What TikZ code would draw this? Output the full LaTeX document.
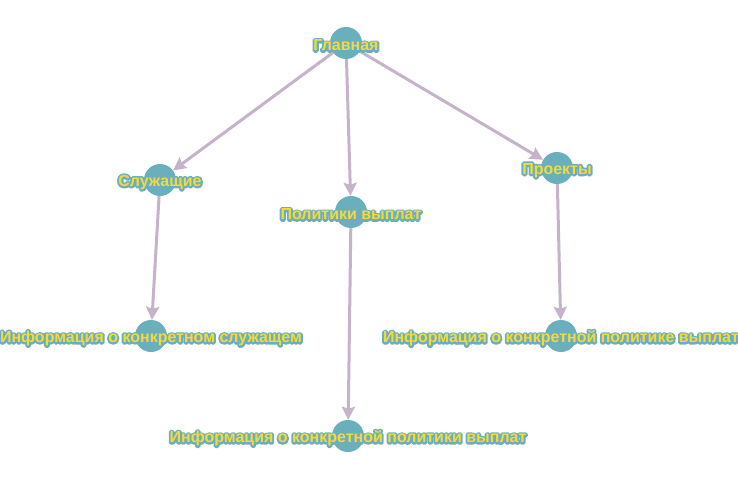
\documentclass[tikz,border=0pt]{standalone}
\usepackage{fontspec}
\setmainfont{Liberation Sans}
\usetikzlibrary{arrows.meta}
\definecolor{nodeteal}{HTML}{6AAFBB}
\definecolor{linkgrey}{HTML}{C4B3C9}
\definecolor{labelyellow}{HTML}{F2DA3C}
% yellow bold label over a teal stroked copy that forms its halo
\newcommand{\halolabel}[1]{%
  \makebox[0pt]{\makebox[0pt]{\textcolor{nodeteal}{%
    \special{pdf:literal direct q 2 Tr 3.8 w 1 j 1 J}#1\special{pdf:literal direct Q}}}%
  \makebox[0pt]{\textcolor{labelyellow}{#1}}}}
\tikzset{
  vertex/.style={circle, fill=nodeteal, minimum size=32pt, inner sep=0pt},
  vlabel/.style={font=\bfseries\fontsize{16pt}{16pt}\selectfont, inner sep=0pt, yshift=-2.5pt},
  link/.style={draw=linkgrey, line width=3pt, -{Stealth[length=13pt,width=13pt,inset=2pt]}},
}
\begin{document}
\begin{tikzpicture}[x=1pt,y=-1pt]
\useasboundingbox (0,0) rectangle (738,481);
\begin{scope}
\clip (0,0) rectangle (738,481);
% circles
\node[vertex] (home) at (346,43) {};
\node[vertex] (staff) at (160,180) {};
\node[vertex] (policies) at (351,212) {};
\node[vertex] (projects) at (557,168) {};
\node[vertex] (staffinfo) at (151,336) {};
\node[vertex] (projinfo) at (561,336) {};
\node[vertex] (polinfo) at (348,436) {};
% connectors
\draw[link] (home) -- (staff);
\draw[link] (home) -- (policies);
\draw[link] (home) -- (projects);
\draw[link] (staff) -- (staffinfo);
\draw[link] (policies) -- (polinfo);
\draw[link] (projects) -- (projinfo);
% labels
\node[vlabel] (homel) at (home.center) {\halolabel{Главная}};
\node[vlabel] (staffl) at (staff.center) {\halolabel{Служащие}};
\node[vlabel] (policiesl) at (policies.center) {\halolabel{Политики выплат}};
\node[vlabel] (projectsl) at (projects.center) {\halolabel{Проекты}};
\node[vlabel] (staffinfol) at (staffinfo.center) {\halolabel{Информация о конкретном служащем}};
\node[vlabel] (projinfol) at (projinfo.center) {\halolabel{Информация о конкретной политике выплат}};
\node[vlabel] (polinfol) at (polinfo.center) {\halolabel{Информация о конкретной политики выплат}};
\end{scope}
\end{tikzpicture}
\end{document}
